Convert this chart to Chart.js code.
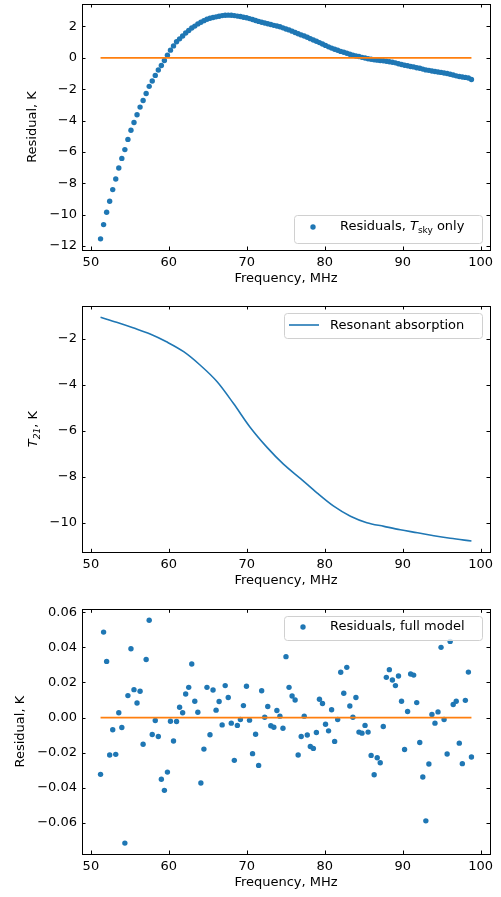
<!DOCTYPE html>
<html>
<head>
<meta charset="utf-8">
<script src="https://cdn.jsdelivr.net/npm/chart.js@4.4.1/dist/chart.umd.min.js"></script>
<style>
  body { margin: 0; background: #fff; }
  canvas { position: absolute; left: 0; }
</style>
</head>
<body>
<canvas id="c1" width="501" height="290" style="top:0px"></canvas>
<canvas id="c2" width="501" height="305" style="top:290px"></canvas>
<canvas id="c3" width="501" height="302" style="top:595px"></canvas>
<script>
// channel frequencies, MHz
const freqs = [
  51.24, 51.63, 52.02, 52.41, 52.80, 53.19, 53.58, 53.97, 54.36, 54.75,
  55.14, 55.53, 55.92, 56.31, 56.70, 57.09, 57.48, 57.87, 58.26, 58.65,
  59.04, 59.43, 59.82, 60.21, 60.60, 60.99, 61.38, 61.77, 62.16, 62.55,
  62.94, 63.33, 63.72, 64.11, 64.50, 64.89, 65.28, 65.67, 66.06, 66.45,
  66.84, 67.23, 67.62, 68.01, 68.40, 68.79, 69.18, 69.57, 69.96, 70.35,
  70.74, 71.13, 71.52, 71.91, 72.30, 72.69, 73.08, 73.47, 73.86, 74.25,
  74.64, 75.03, 75.42, 75.81, 76.20, 76.59, 76.98, 77.37, 77.76, 78.15,
  78.54, 78.93, 79.32, 79.71, 80.10, 80.49, 80.88, 81.27, 81.66, 82.05,
  82.44, 82.83, 83.22, 83.61, 84.00, 84.39, 84.78, 85.17, 85.56, 85.95,
  86.34, 86.73, 87.12, 87.51, 87.90, 88.29, 88.68, 89.07, 89.46, 89.85,
  90.24, 90.63, 91.02, 91.41, 91.80, 92.19, 92.58, 92.97, 93.36, 93.75,
  94.14, 94.53, 94.92, 95.31, 95.70, 96.09, 96.48, 96.87, 97.26, 97.65,
  98.04, 98.43, 98.82
];

// residuals after fitting T_sky only, K
const residualSkyOnly = [
  -11.54, -10.63, -9.84, -9.14, -8.40, -7.72, -7.02, -6.41, -5.85, -5.20,
  -4.62, -4.12, -3.63, -3.14, -2.72, -2.27, -1.82, -1.48, -1.12, -0.78,
  -0.49, -0.17, 0.17, 0.49, 0.76, 1.02, 1.21, 1.39, 1.58, 1.74,
  1.90, 2.02, 2.16, 2.27, 2.37, 2.46, 2.52, 2.57, 2.61, 2.65,
  2.69, 2.71, 2.72, 2.71, 2.69, 2.66, 2.63, 2.59, 2.55, 2.50,
  2.44, 2.38, 2.32, 2.27, 2.22, 2.17, 2.12, 2.07, 2.03, 1.98,
  1.91, 1.84, 1.78, 1.70, 1.61, 1.53, 1.46, 1.39, 1.31, 1.22,
  1.14, 1.06, 0.97, 0.88, 0.79, 0.70, 0.62, 0.55, 0.48, 0.41,
  0.35, 0.29, 0.23, 0.17, 0.12, 0.08, 0.03, -0.01, -0.06, -0.09,
  -0.12, -0.15, -0.17, -0.19, -0.22, -0.25, -0.28, -0.32, -0.38, -0.43,
  -0.47, -0.51, -0.55, -0.58, -0.63, -0.67, -0.72, -0.77, -0.80, -0.84,
  -0.87, -0.90, -0.93, -0.97, -1.00, -1.05, -1.10, -1.15, -1.19, -1.22,
  -1.25, -1.29, -1.38
];

// resonant absorption profile
const t21Freqs = [51.24, 53.3, 55.4, 57.6, 59.7, 61.9, 64.0, 66.2, 68.3, 70.4, 72.6, 74.7,
  76.9, 79.0, 81.1, 83.3, 85.4, 87.6, 89.7, 91.9, 94.0, 96.1, 98.82];
const t21Values = [-1.05, -1.27, -1.51, -1.78, -2.12, -2.55, -3.13, -3.86, -4.81, -5.83, -6.72, -7.45,
  -8.08, -8.70, -9.27, -9.72, -10.0, -10.16, -10.31, -10.44, -10.57, -10.68, -10.80];

// residuals with the full model, K
const residualFull = [
  -0.0324, 0.0487, 0.0320, -0.0214, -0.0070, -0.0210, 0.0027, -0.0057, -0.0716, 0.0125,
  0.0392, 0.0159, 0.0083, 0.0150, -0.0152, 0.0331, 0.0555, -0.0097, -0.0017, -0.0108,
  -0.0352, -0.0415, -0.0311, -0.0021, -0.0134, -0.0023, 0.0059, 0.0027, 0.0134, 0.0172,
  0.0305, 0.0093, 0.0030, -0.0373, -0.0180, 0.0172, -0.0098, 0.0157, 0.0042, 0.0091,
  -0.0042, 0.0182, 0.0114, -0.0032, -0.0244, -0.0045, -0.0011, 0.0068, 0.0178, -0.0015,
  -0.0206, -0.0095, -0.0273, 0.0153, 0.0002, 0.0063, -0.0047, -0.0055, 0.0040, 0.0008,
  -0.0061, 0.0347, 0.0172, 0.0123, 0.0100, -0.0214, -0.0108, 0.0008, -0.0100, -0.0165,
  -0.0176, -0.0085, 0.0104, 0.0080, -0.0038, -0.0076, 0.0044, -0.0136, -0.0011, 0.0258,
  0.0138, 0.0286, 0.0066, 0.0002, 0.0114, -0.0083, -0.0089, -0.0045, -0.0083, -0.0216,
  -0.0326, -0.0229, -0.0258, -0.0051, 0.0229, 0.0273, 0.0214, 0.0182, 0.0237, 0.0093,
  -0.0182, 0.0034, 0.0248, 0.0242, 0.0085, -0.0142, -0.0339, -0.0589, -0.0265, 0.0017,
  -0.0032, 0.0032, 0.0400, -0.0011, -0.0208, 0.0434, 0.0074, 0.0093, -0.0146, -0.0263,
  0.0098, 0.0259, -0.0225
];

const freqTicks = [50, 60, 70, 80, 90, 100];
const skyOnlyTicks = [-12, -10, -8, -6, -4, -2, 0, 2];
const t21Ticks = [-10, -8, -6, -4, -2];
const fullTicks = [-0.06, -0.04, -0.02, 0, 0.02, 0.04, 0.06];

const BLUE = "#1f77b4";
const ORANGE = "#ff7f0e";
const FONT = '"DejaVu Sans", sans-serif';

Chart.defaults.font.family = FONT;
Chart.defaults.font.size = 13;
Chart.defaults.color = "#000";

const minus = s => String(s).replace("-", "\u2212");

function drawRich(ctx, x, y, parts) {
  let cx = x;
  parts.forEach(p => {
    const size = p.sub ? 9 : 13;
    ctx.font = (p.italic ? "italic " : "") + size + "px " + FONT;
    ctx.fillText(p.t, cx, y + (p.sub ? 3 : 0));
    cx += ctx.measureText(p.t).width;
  });
  return cx - x;
}

function richWidth(ctx, parts) {
  let w = 0;
  parts.forEach(p => {
    ctx.font = (p.italic ? "italic " : "") + (p.sub ? 9 : 13) + "px " + FONT;
    w += ctx.measureText(p.t).width;
  });
  return w;
}

// box + inward ticks on all four sides, like matplotlib
const framePlugin = {
  id: "frame",
  afterDatasetsDraw(chart) {
    const { ctx, chartArea: a, scales } = chart;
    ctx.save();
    ctx.strokeStyle = "#000";
    ctx.lineWidth = 1;
    ctx.beginPath();
    scales.x.ticks.forEach(t => {
      const px = Math.round(scales.x.getPixelForValue(t.value)) + 0.5;
      ctx.moveTo(px, a.bottom); ctx.lineTo(px, a.bottom - 3.5);
      ctx.moveTo(px, a.top); ctx.lineTo(px, a.top + 3.5);
    });
    scales.y.ticks.forEach(t => {
      const py = Math.round(scales.y.getPixelForValue(t.value)) + 0.5;
      ctx.moveTo(a.left, py); ctx.lineTo(a.left + 3.5, py);
      ctx.moveTo(a.right, py); ctx.lineTo(a.right - 3.5, py);
    });
    ctx.stroke();
    ctx.strokeRect(Math.round(a.left) + 0.5, Math.round(a.top) + 0.5,
      Math.round(a.right - a.left), Math.round(a.bottom - a.top));
    ctx.restore();
  }
};

function legendPlugin(cfg) {
  return {
    id: "legendBox",
    afterDraw(chart) {
      const ctx = chart.ctx;
      const [x1, y1, x2, y2] = cfg.box;
      ctx.save();
      ctx.beginPath();
      ctx.roundRect(x1 + 0.5, y1 + 0.5, x2 - x1, y2 - y1, 3);
      ctx.fillStyle = "rgba(255,255,255,0.8)";
      ctx.fill();
      ctx.strokeStyle = "#d0d0d0";
      ctx.lineWidth = 1;
      ctx.stroke();
      if (cfg.marker === "dot") {
        ctx.fillStyle = BLUE;
        ctx.beginPath();
        ctx.arc(cfg.mx, cfg.my, 2.7, 0, Math.PI * 2);
        ctx.fill();
      } else {
        ctx.strokeStyle = BLUE;
        ctx.lineWidth = 1.6;
        ctx.beginPath();
        ctx.moveTo(cfg.mx, cfg.my);
        ctx.lineTo(cfg.mx + 30, cfg.my);
        ctx.stroke();
      }
      ctx.fillStyle = "#000";
      ctx.textBaseline = "alphabetic";
      drawRich(ctx, cfg.tx, cfg.ty, cfg.parts);
      ctx.restore();
    }
  };
}

function makeChart(id, opt) {
  return new Chart(document.getElementById(id), {
    type: "scatter",
    data: { datasets: opt.datasets },
    options: {
      responsive: false,
      animation: false,
      devicePixelRatio: 1,
      layout: { padding: { top: opt.top, right: 11, left: 0, bottom: 0 } },
      plugins: { legend: { display: false }, tooltip: { enabled: false } },
      scales: {
        x: {
          type: "linear",
          min: 48.86,
          max: 101.2,
          grid: { display: false, drawTicks: false },
          border: { display: false },
          ticks: { padding: 5, maxRotation: 0, callback: v => String(v) },
          afterBuildTicks: s => { s.ticks = freqTicks.map(v => ({ value: v })); },
          afterFit: s => { s.height = opt.xHeight; s.paddingLeft = 0; s.paddingRight = 0; },
          title: { display: true, text: "Frequency, MHz", padding: { top: 0, bottom: opt.xTitlePad } }
        },
        y: {
          type: "linear",
          min: opt.yMin,
          max: opt.yMax,
          grid: { display: false, drawTicks: false },
          border: { display: false },
          ticks: { padding: 5, callback: opt.yFmt },
          afterBuildTicks: s => { s.ticks = opt.yTicks.map(v => ({ value: v })); },
          afterFit: s => { s.width = 82; s.paddingTop = 0; s.paddingBottom = 0; },
          title: { display: !!opt.yTitle, text: opt.yTitle || "", padding: { top: opt.yTitlePad, bottom: 0 } }
        }
      }
    },
    plugins: [framePlugin].concat(opt.plugins || [])
  });
}

const zeroLine = {
  type: "line",
  data: [{ x: freqs[0], y: 0 }, { x: freqs[freqs.length - 1], y: 0 }],
  borderColor: ORANGE,
  borderWidth: 1.8,
  pointRadius: 0,
  showLine: true,
  order: 0
};

// panel 1: residuals, T_sky only
makeChart("c1", {
  top: 4, xHeight: 40, xTitlePad: 4,
  yMin: -12.25, yMax: 3.43, yTicks: skyOnlyTicks,
  yFmt: v => minus(v),
  yTitle: "Residual, K", yTitlePad: 25,
  datasets: [
    zeroLine,
    {
      data: freqs.map((f, i) => ({ x: f, y: residualSkyOnly[i] })),
      backgroundColor: BLUE, pointRadius: 2.7, pointBorderWidth: 0, order: 1
    }
  ],
  plugins: [legendPlugin({
    box: [294, 215, 482, 243], marker: "dot", mx: 313, my: 227, tx: 340, ty: 230,
    parts: [{ t: "Residuals, " }, { t: "T", italic: true }, { t: "sky", sub: true }, { t: " only" }]
  })]
});

// panel 2: resonant absorption
const t21Parts = [{ t: "T", italic: true }, { t: "21", italic: true, sub: true }, { t: ", K" }];
makeChart("c2", {
  top: 16, xHeight: 42.7, xTitlePad: 6.5,
  yMin: -11.29, yMax: -0.56, yTicks: t21Ticks,
  yFmt: v => minus(v),
  datasets: [{
    type: "line",
    data: t21Freqs.map((f, i) => ({ x: f, y: t21Values[i] })),
    borderColor: BLUE, borderWidth: 1.6, pointRadius: 0, showLine: true,
    cubicInterpolationMode: "monotone"
  }],
  plugins: [
    legendPlugin({
      box: [284, 23, 482, 48], marker: "line", mx: 289, my: 35, tx: 330, ty: 39,
      parts: [{ t: "Resonant absorption" }]
    }),
    {
      id: "t21Title",
      afterDraw(chart) {
        const ctx = chart.ctx;
        const a = chart.chartArea;
        ctx.save();
        ctx.translate(37, (a.top + a.bottom) / 2);
        ctx.rotate(-Math.PI / 2);
        ctx.fillStyle = "#000";
        ctx.textBaseline = "alphabetic";
        drawRich(ctx, -richWidth(ctx, t21Parts) / 2, 0, t21Parts);
        ctx.restore();
      }
    }
  ]
});

// panel 3: residuals, full model
makeChart("c3", {
  top: 14.3, xHeight: 43, xTitlePad: 7,
  yMin: -0.0778, yMax: 0.0617, yTicks: fullTicks,
  yFmt: v => minus(Number(v).toFixed(2)),
  yTitle: "Residual, K", yTitlePad: 13,
  datasets: [
    zeroLine,
    {
      data: freqs.map((f, i) => ({ x: f, y: residualFull[i] })),
      backgroundColor: BLUE, pointRadius: 2.7, pointBorderWidth: 0, order: 1
    }
  ],
  plugins: [legendPlugin({
    box: [284, 21, 482, 45], marker: "dot", mx: 303, my: 32, tx: 330, ty: 35,
    parts: [{ t: "Residuals, full model" }]
  })]
});
</script>
</body>
</html>
